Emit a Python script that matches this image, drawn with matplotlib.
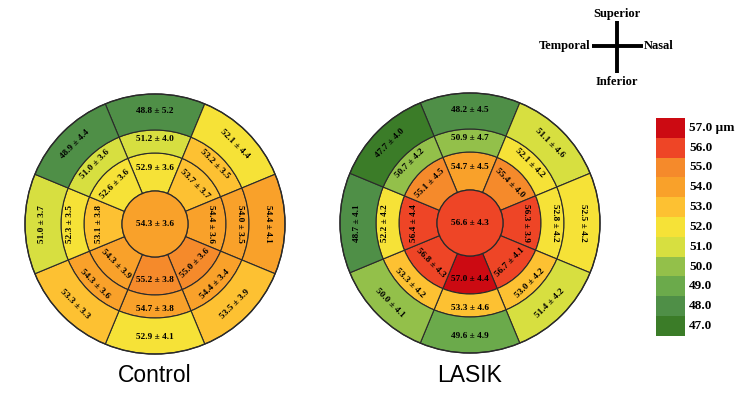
import numpy as np
import matplotlib.pyplot as plt
from matplotlib.patches import Wedge, Circle

# sector order: superior, then clockwise (nasal on the right)
sector_deg = [0, 45, 90, 135, 180, 225, 270, 315]

ctrl_center_mean, ctrl_center_sd = 54.3, 3.6
ctrl_inner_mean = [52.9, 53.7, 54.4, 55.0, 55.2, 54.3, 53.1, 52.6]
ctrl_inner_sd = [3.6, 3.7, 3.6, 3.6, 3.8, 3.9, 3.8, 3.6]
ctrl_mid_mean = [51.2, 53.2, 54.0, 54.4, 54.7, 54.3, 52.3, 51.0]
ctrl_mid_sd = [4.0, 3.5, 3.5, 3.4, 3.8, 3.6, 3.5, 3.6]
ctrl_outer_mean = [48.8, 52.1, 54.4, 53.5, 52.9, 53.3, 51.0, 48.9]
ctrl_outer_sd = [5.2, 4.4, 4.1, 3.9, 4.1, 3.3, 3.7, 4.4]

lasik_center_mean, lasik_center_sd = 56.6, 4.3
lasik_inner_mean = [54.7, 55.4, 56.3, 56.7, 57.0, 56.8, 56.4, 55.1]
lasik_inner_sd = [4.5, 4.0, 3.9, 4.1, 4.4, 4.3, 4.4, 4.5]
lasik_mid_mean = [50.9, 52.1, 52.8, 53.0, 53.3, 53.3, 52.2, 50.7]
lasik_mid_sd = [4.7, 4.2, 4.2, 4.2, 4.6, 4.2, 4.2, 4.2]
lasik_outer_mean = [48.2, 51.1, 52.5, 51.4, 49.6, 50.0, 48.7, 47.7]
lasik_outer_sd = [4.5, 4.6, 4.2, 4.2, 4.9, 4.1, 4.1, 4.0]

scale_levels = [57, 56, 55, 54, 53, 52, 51, 50, 49, 48, 47]
scale_colors = ['#CC0A12', '#EE4526', '#F58A2B', '#F9A12A', '#FDC132', '#F6E237',
                '#D7DF40', '#93C04A', '#6BAA4B', '#4F8F47', '#3B7C28']

H = 401
fig = plt.figure(figsize=(7.5, 4.01), dpi=100)
ax = fig.add_axes([0, 0, 1, 1])
ax.set_xlim(0, 750)
ax.set_ylim(0, H)
ax.axis('off')

serif = 'Liberation Serif'
edge = '#2a2a2a'
val_size = 6.7


def color_for(v):
    lvl = int(np.floor(v + 1e-9))
    lvl = min(max(lvl, 47), 57)
    return scale_colors[scale_levels.index(lvl)]


def text_rot(deg):
    r = (-deg + 180) % 360 - 180
    if r > 90:
        r -= 180
    elif r < -90:
        r += 180
    return r


def draw_map(cx, cy, center, rings, title):
    cy = H - cy
    radii = [33, 71, 94, 130]
    label_r = [56, 85, 113]
    for k, (means, sds) in enumerate(rings):
        r_in, r_out = radii[k], radii[k + 1]
        for deg, m, s in zip(sector_deg, means, sds):
            a = 90 - deg
            ax.add_patch(Wedge((cx, cy), r_out, a - 22.5, a + 22.5, width=r_out - r_in,
                               facecolor=color_for(m), edgecolor=edge, lw=0.8))
            t = np.deg2rad(a)
            ax.text(cx + label_r[k] * np.cos(t), cy + label_r[k] * np.sin(t),
                    '%.1f ± %.1f' % (m, s), rotation=text_rot(deg),
                    ha='center', va='center', fontsize=val_size, family=serif,
                    fontweight='bold', rotation_mode='anchor')
    ax.add_patch(Circle((cx, cy), radii[0], facecolor=color_for(center[0]),
                        edgecolor=edge, lw=0.9))
    ax.add_patch(Circle((cx, cy), radii[-1], facecolor='none', edgecolor=edge, lw=1.0))
    ax.text(cx, cy, '%.1f ± %.1f' % center, ha='center', va='center', fontsize=val_size,
            family=serif, fontweight='bold')
    ax.text(cx, H - 375, title, ha='center', va='center', fontsize=16.5,
            family='Liberation Sans')


draw_map(155, 224, (ctrl_center_mean, ctrl_center_sd),
         [(ctrl_inner_mean, ctrl_inner_sd), (ctrl_mid_mean, ctrl_mid_sd),
          (ctrl_outer_mean, ctrl_outer_sd)], 'Control')
draw_map(470, 223, (lasik_center_mean, lasik_center_sd),
         [(lasik_inner_mean, lasik_inner_sd), (lasik_mid_mean, lasik_mid_sd),
          (lasik_outer_mean, lasik_outer_sd)], 'LASIK')

# orientation cross
ox, oy = 617, H - 46
ax.plot([ox, ox], [H - 21, H - 73], color='black', lw=2.8, solid_capstyle='butt')
ax.plot([592, 643], [oy, oy], color='black', lw=2.8, solid_capstyle='butt')
kw = dict(fontsize=9, family=serif, fontweight='bold')
ax.text(ox, H - 14, 'Superior', ha='center', va='center', **kw)
ax.text(ox, H - 82, 'Inferior', ha='center', va='center', **kw)
ax.text(590, oy, 'Temporal', ha='right', va='center', **kw)
ax.text(644, oy, 'Nasal', ha='left', va='center', **kw)

# colour scale
box_h = 19.8
top = H - 118
for i, (lvl, c) in enumerate(zip(scale_levels, scale_colors)):
    y0 = top - (i + 1) * box_h
    ax.add_patch(plt.Rectangle((656, y0), 29, box_h, facecolor=c, edgecolor='none'))
    lab = '%.1f' % lvl + (' µm' if i == 0 else '')
    ax.text(689, y0 + box_h / 2, lab, ha='left', va='center', fontsize=9.5,
            family=serif, fontweight='bold')

fig.savefig('out.png', dpi=100)
